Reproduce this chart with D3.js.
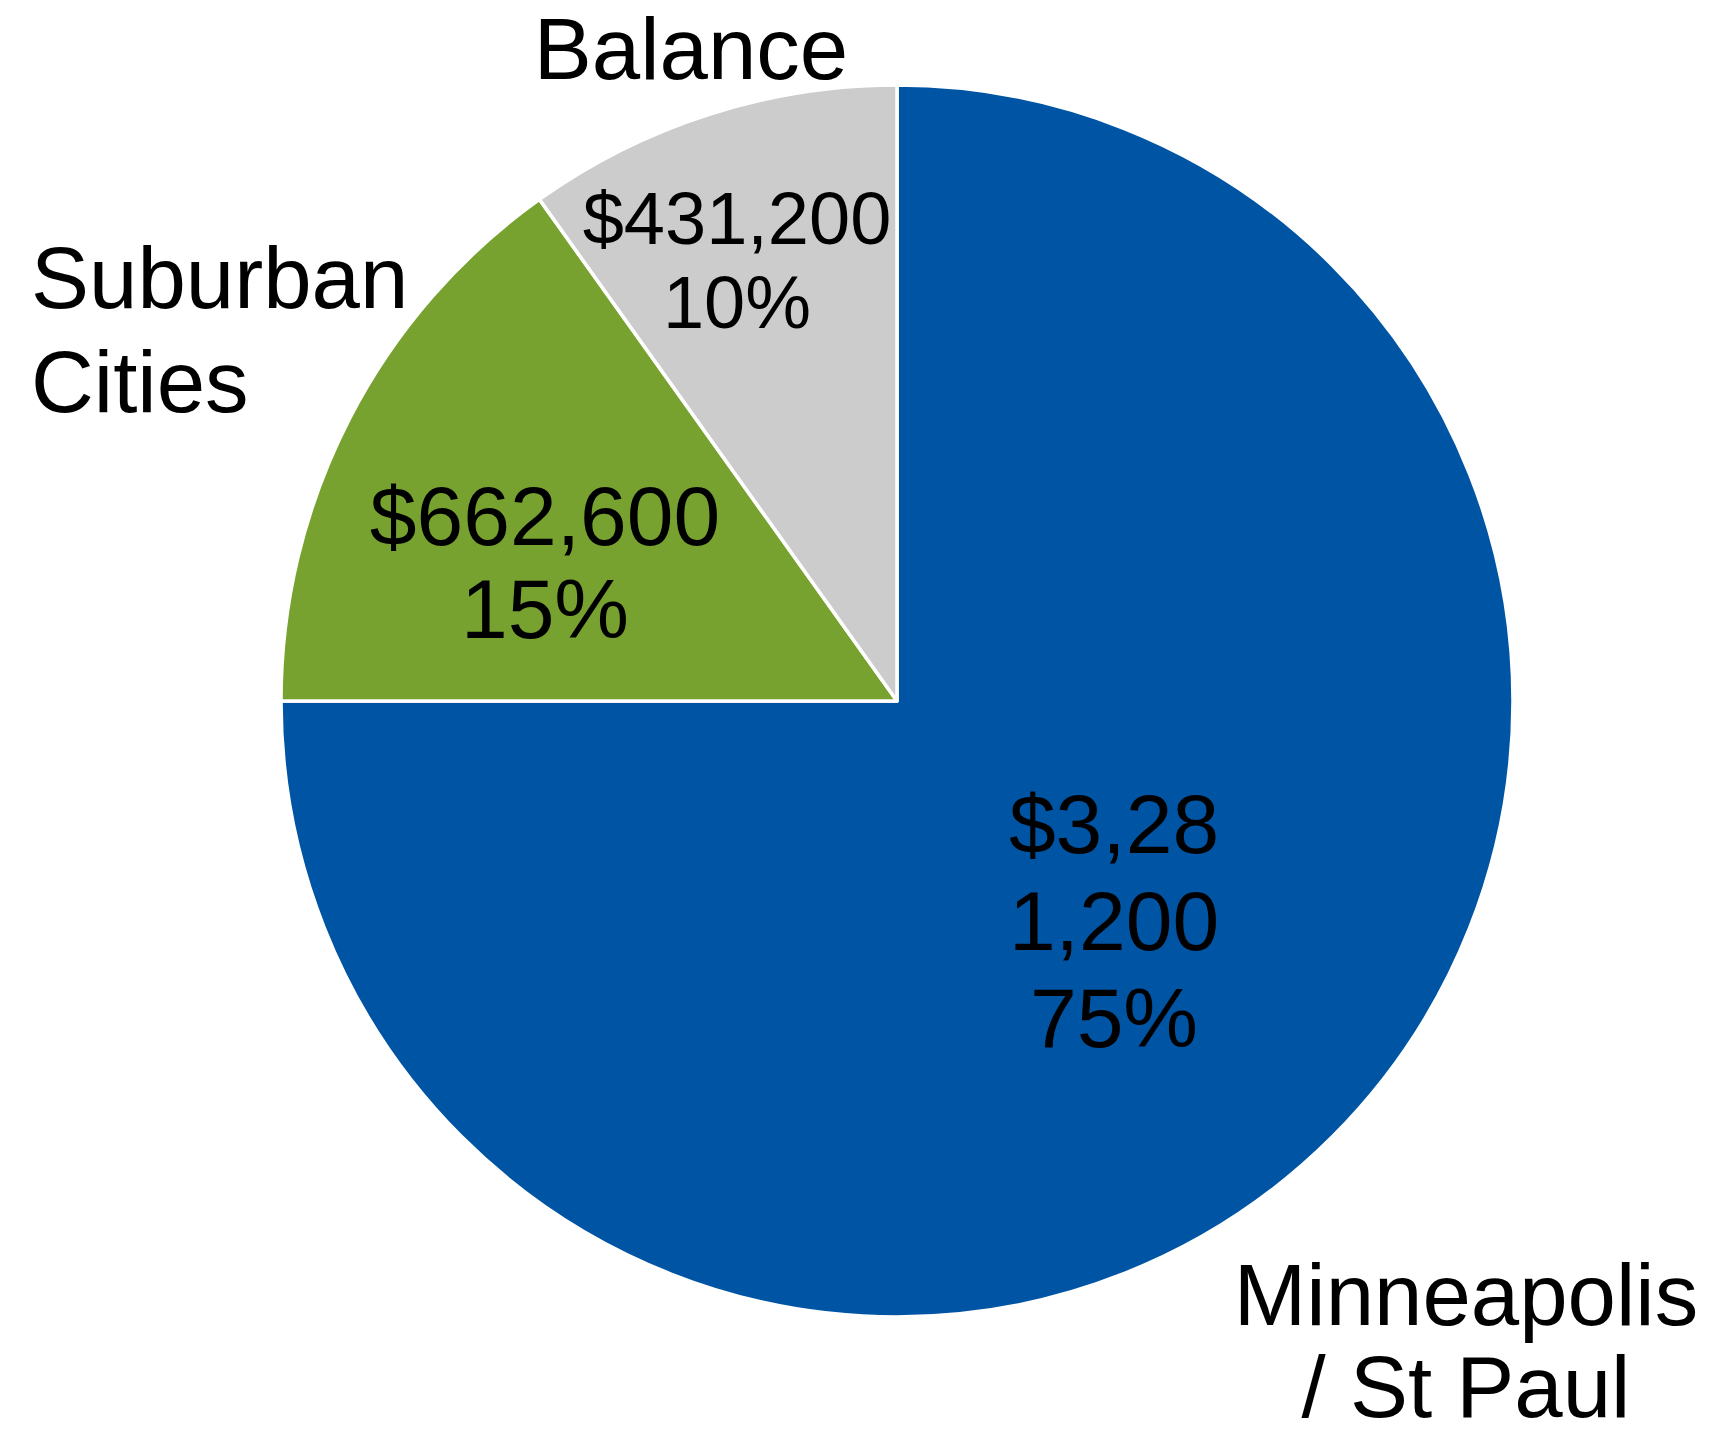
<!DOCTYPE html>
<html>
<head>
<meta charset="utf-8">
<script src="https://cdn.jsdelivr.net/npm/d3@7"></script>
<style>
  html, body { margin: 0; padding: 0; background: #fff; }
  svg text { font-family: "Liberation Sans", Arial, sans-serif; fill: #000; }
</style>
</head>
<body>
<div id="chart"></div>
<script>
// Slice data, clockwise from 12 o'clock
const categories = ['Minneapolis / St Paul', 'Suburban Cities', 'Balance'];
const amounts    = [3281200, 662600, 431200];
const colors     = ['#0054a4', '#78a22f', '#cccccc'];

// Category labels (line-broken as in the original)
const nameLines  = [['Minneapolis', '/ St Paul'], ['Suburban', 'Cities'], ['Balance']];
// Value labels (the big one wraps inside the slice)
const valueLines = [['$3,28', '1,200', '75%'], ['$662,600', '15%'], ['$431,200', '10%']];

const W = 1725, H = 1435;
const CX = 897, CY = 701, R = 616;

// label placement: [x, first baseline, line height, font size, anchor]
const nameLayout = [
  [1466, 1325, 92, 87, 'middle'],
  [31, 308, 104, 87, 'start'],
  [691, 79, 98, 87, 'middle']
];
const valueLayout = [
  [1114, 853, 97, 84, 'middle'],
  [545, 545, 93, 84, 'middle'],
  [737, 244, 84, 74, 'middle']
];

const svg = d3.select('#chart').append('svg')
  .attr('width', W).attr('height', H);

const pie = d3.pie().sort(null).value(d => d)(amounts);
const arc = d3.arc().innerRadius(0).outerRadius(R);

const g = svg.append('g').attr('transform', `translate(${CX},${CY})`);
g.selectAll('path.slice')
  .data(pie)
  .join('path')
    .attr('class', 'slice')
    .attr('d', arc)
    .attr('fill', (d, i) => colors[i])
    .attr('stroke', '#fff')
    .attr('stroke-width', 3.5)
    .attr('stroke-linejoin', 'round');

function addLabel(lines, [x, y0, lh, fs, anchor]) {
  const t = svg.append('text')
    .attr('text-anchor', anchor)
    .attr('font-size', fs);
  lines.forEach((s, k) => {
    t.append('tspan').attr('x', x).attr('y', y0 + k * lh).text(s);
  });
}

categories.forEach((c, i) => {
  addLabel(nameLines[i], nameLayout[i]);
  addLabel(valueLines[i], valueLayout[i]);
});
</script>
</body>
</html>
